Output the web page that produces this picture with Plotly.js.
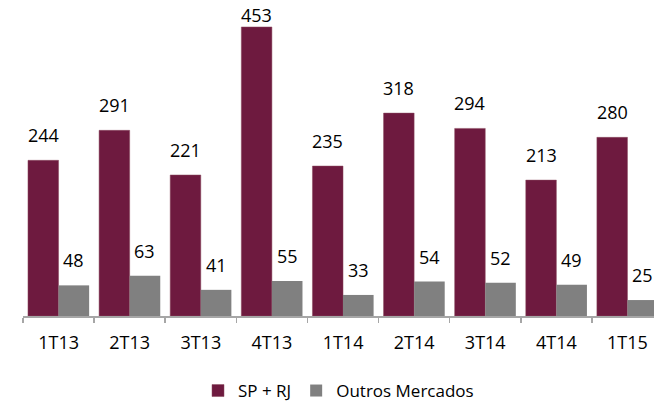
<!DOCTYPE html>
<html><head><meta charset="utf-8">
<script src="https://cdn.plot.ly/plotly-3.0.1.min.js"></script>
<style>body{margin:0;padding:0;background:#fff}#c{width:654px;height:401px}</style>
</head><body><div id="c"></div>
<script>
const categories = ["1T13","2T13","3T13","4T13","1T14","2T14","3T14","4T14","1T15"];
const spRj = [244,291,221,453,235,318,294,213,280];
const outros = [48,63,41,55,33,54,52,49,25];
const seriesNames = ["SP + RJ","Outros Mercados"];

const fontFam = "Open Sans, sans-serif";
const W = 654, H = 401;
const mT = 10, mB = 85, mL = 23, mR = 0;
const yMax = 479.6;
const bargap = 0.14;
const xRange = [-0.5, 8.373];

const plotH = H - mT - mB;
const pxPerUnit = plotH / yMax;
const catPx = (W - mL - mR) / (xRange[1] - xRange[0]);
const barOff = catPx * (1 - bargap) / 4;

const traces = [
  {type:"bar", name:seriesNames[0], x:categories, y:spRj,
   marker:{color:"#6E1A3F", line:{color:"#8a4a5e", width:0.5}}, hoverinfo:"none"},
  {type:"bar", name:seriesNames[1], x:categories, y:outros,
   marker:{color:"#808080"}, hoverinfo:"none"}
];

function labelAnn(vals, sign) {
  return vals.map((v, i) => {
    const topPx = mT + plotH - v * pxPerUnit; // bar top in px
    const labelH = 25, minTop = 4;
    let shift = 11;
    if (topPx - shift - labelH < minTop) shift = topPx - labelH - minTop;
    return {x: categories[i], y: v, xref:"x", yref:"y", text: String(v), showarrow:false,
            xanchor:"center", yanchor:"bottom", xshift: sign * barOff, yshift: shift,
            font:{family:fontFam, size:18, color:"#000"}};
  });
}

const layout = {
  width:W, height:H,
  margin:{l:mL, r:mR, t:mT, b:mB, autoexpand:false},
  barmode:"group", bargap:bargap, bargroupgap:0,
  font:{family:fontFam, size:18, color:"#000"},
  showlegend:true,
  legend:{orientation:"h", x:0.5, xanchor:"center", yref:"container", y:0.025, yanchor:"middle",
          font:{family:fontFam, size:17, color:"#000"}, itemwidth:30, tracegroupgap:0},
  xaxis:{type:"category", range:xRange, showline:true, linecolor:"#A6A6A6", linewidth:1.5,
         ticks:"outside", tickson:"boundaries", ticklen:5, tickcolor:"#A6A6A6", tickwidth:1.5,
         showgrid:false, zeroline:false, tickfont:{family:fontFam, size:18, color:"#000"}, ticklabelstandoff:10},
  yaxis:{range:[0,yMax], visible:false, showgrid:false, zeroline:false},
  annotations: labelAnn(spRj, -1).concat(labelAnn(outros, 1)),
  plot_bgcolor:"#fff", paper_bgcolor:"#fff"
};
Plotly.newPlot("c", traces, layout, {displayModeBar:false, staticPlot:true});
</script></body></html>
